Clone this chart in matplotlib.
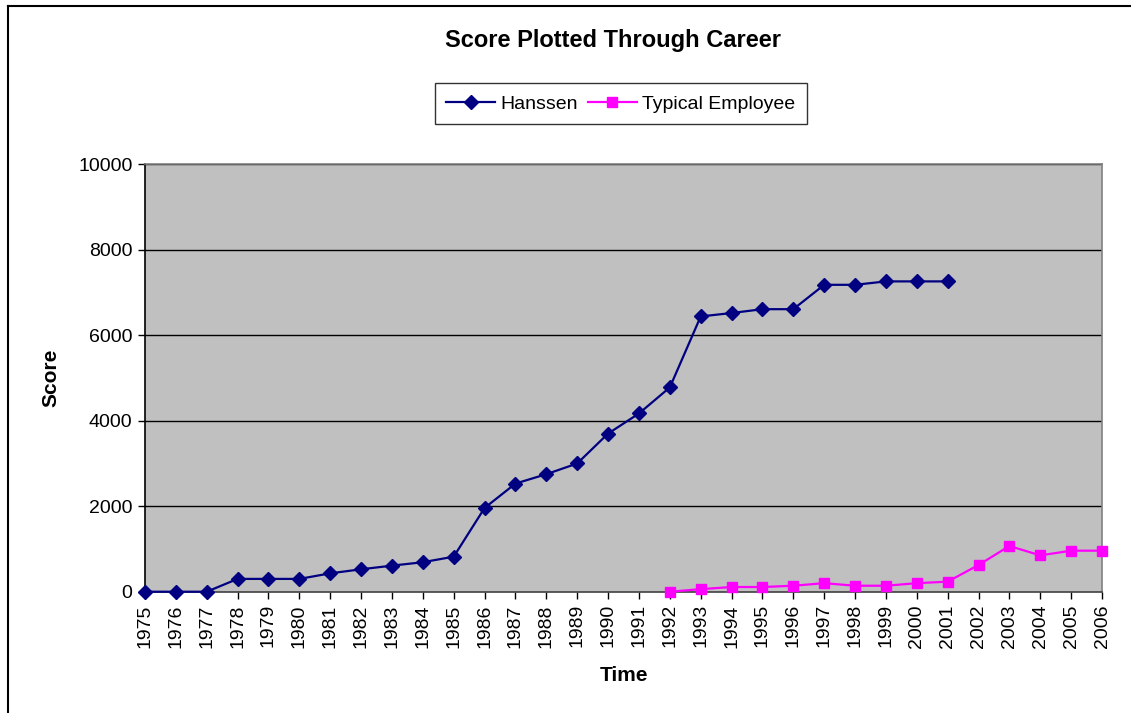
"""Score plotted through career: Hanssen vs typical employee."""

import matplotlib
matplotlib.use("Agg")
import matplotlib.pyplot as plt
from matplotlib.lines import Line2D

plt.rcParams["font.family"] = ["Liberation Sans", "DejaVu Sans"]

# data
hanssen_years = list(range(1975, 2002))
hanssen_scores = [0, 0, 0, 300, 300, 300, 430, 525, 610, 690, 820,
                  1960, 2530, 2750, 3000, 3700, 4170, 4780, 6440, 6520,
                  6610, 6610, 7180, 7180, 7260, 7260, 7260]

typical_years = list(range(1992, 2007))
typical_scores = [0, 60, 110, 110, 140, 200, 140, 140, 200, 235,
                  625, 1070, 850, 960, 960]

all_years = list(range(1975, 2007))
y_ticks = [0, 2000, 4000, 6000, 8000, 10000]

fig = plt.figure(figsize=(11.31, 7.13), dpi=100)
ax = fig.add_axes([0.1282, 0.1701, 0.9744 - 0.1282, 0.7696 - 0.1701])
ax.set_facecolor("#C0C0C0")

for y in y_ticks[1:]:
    ax.axhline(y, color="black", linewidth=1, zorder=1)

ax.plot(hanssen_years, hanssen_scores, color="#000080", linewidth=1.6,
        marker="D", markersize=7.5, zorder=3, clip_on=False)
ax.plot(typical_years, typical_scores, color="#FF00FF", linewidth=1.6,
        marker="s", markersize=7.5, zorder=3, clip_on=False)

ax.set_xlim(1975, 2006)
ax.set_ylim(0, 10000)
ax.set_xticks(all_years)
ax.set_xticklabels([str(y) for y in all_years], rotation=90, fontsize=14)
ax.set_yticks(y_ticks)
ax.set_yticklabels([str(y) for y in y_ticks], fontsize=14)
ax.tick_params(axis="both", direction="out", length=5, width=1, pad=4)

ax.spines["left"].set_color("black")
ax.spines["bottom"].set_color("#404040")
ax.spines["top"].set_color("#808080")
ax.spines["right"].set_color("#808080")
for s in ax.spines.values():
    s.set_linewidth(1.2)

ax.set_xlabel("Time", fontsize=15, fontweight="bold", labelpad=13)
ax.set_ylabel("Score", fontsize=15, fontweight="bold", labelpad=13)

fig.text(0.542, 0.943, "Score Plotted Through Career", fontsize=17,
         fontweight="bold", ha="center", va="center")

handles = [
    Line2D([], [], color="#000080", marker="D", markersize=7.5, linewidth=1.6),
    Line2D([], [], color="#FF00FF", marker="s", markersize=7.5, linewidth=1.6),
]
leg = fig.legend(handles, ["Hanssen", "Typical Employee"], ncol=2,
                 loc="center", bbox_to_anchor=(0.549, 0.8545), fontsize=14,
                 frameon=True, fancybox=False, edgecolor="black",
                 handlelength=2.5, handletextpad=0.3, columnspacing=0.5,
                 borderpad=0.6)
leg.get_frame().set_linewidth(1)

# chart-area border (left and top only visible in the reference)
fig.add_artist(Line2D([8 / 1131, 8 / 1131], [0, 1 - 6 / 713],
                      color="black", linewidth=1.5))
fig.add_artist(Line2D([8 / 1131, 1], [1 - 6 / 713, 1 - 6 / 713],
                      color="black", linewidth=1.5))

fig.savefig("out.png", dpi=100)
